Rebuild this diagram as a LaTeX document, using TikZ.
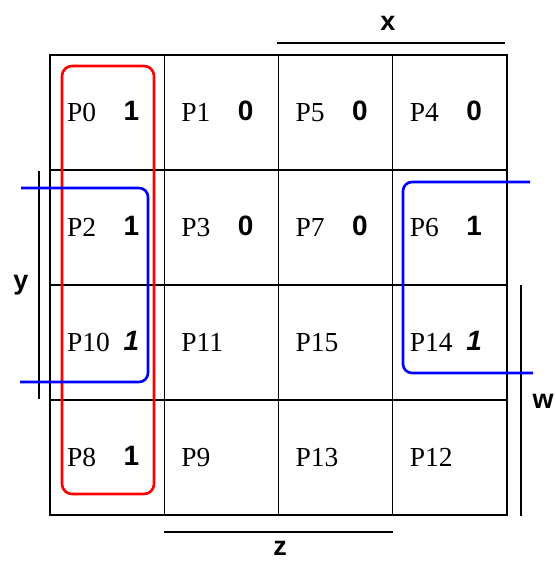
\documentclass[tikz,border=0pt]{standalone}
\usepackage{fontspec}
\setmainfont{Liberation Serif}
\setsansfont{Liberation Sans}
\begin{document}
\begin{tikzpicture}[x=1pt,y=-1pt,
  cell/.style={shape=rectangle,draw=black,line width=1.2pt,minimum width=114.25pt,minimum height=115pt,inner sep=0pt},
  cellname/.style={anchor=west,inner sep=0pt,font=\fontsize{27.5}{27.5}\selectfont},
  cellval/.style={inner sep=0pt,font=\sffamily\bfseries\fontsize{28}{28}\selectfont},
  varname/.style={anchor=base,inner sep=0pt,font=\sffamily\bfseries\fontsize{27}{27}\selectfont},
  varbar/.style={draw=black,line width=1.2pt},
  redloop/.style={draw=red,line width=2.6pt,rounded corners=10pt},
  blueloop/.style={draw=blue,line width=2.6pt,rounded corners=9pt}]
\useasboundingbox (0,0) rectangle (556,562);
% map cells
\foreach \name/\col/\row/\val in {P0/0/0/1, P1/1/0/0, P5/2/0/0, P4/3/0/0,
    P2/0/1/1, P3/1/1/0, P7/2/1/0, P6/3/1/1,
    P10/0/2/{\itshape 1}, P11/1/2/{}, P15/2/2/{}, P14/3/2/{\itshape 1},
    P8/0/3/1, P9/1/3/{}, P13/2/3/{}, P12/3/3/{}} {
  \node[cell] (\name) at ({107.125+114.25*\col},{112.5+115*\row}) {};
  \node[cellname] (\name-n) at ([xshift=17.5pt]\name.west) {\name};
  \node[cellval] (\name-v) at ([xshift=82pt,yshift=2pt]\name.west) {\val};
}
% variable bars
\coordinate (xa) at (277,43);
\coordinate (xb) at (505,43);
\coordinate (ya) at (39,171);
\coordinate (yb) at (39,399);
\coordinate (wa) at (521,285);
\coordinate (wb) at (521,516);
\coordinate (za) at (164,532);
\coordinate (zb) at (393,532);
\draw[varbar] (xa) -- (xb);
\draw[varbar] (ya) -- (yb);
\draw[varbar] (wa) -- (wb);
\draw[varbar] (za) -- (zb);
\node[varname] (x) at (388,30) {x};
\node[varname] (y) at (21,289) {y};
\node[varname] (w) at (543,408) {w};
\node[varname] (z) at (280,555) {z};
% groups
\draw[redloop] (62,66) rectangle (154,494);
\draw[blueloop] (21,188) -- (148,188) -- (148,382) -- (20,382);
\draw[blueloop] (530,182) -- (403,182) -- (403,373) -- (533,373);
\end{tikzpicture}
\end{document}
